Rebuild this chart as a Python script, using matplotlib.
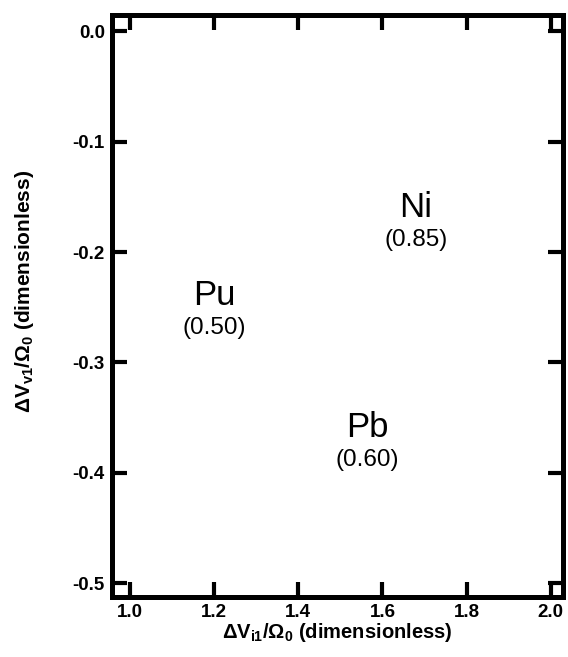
import numpy as np
import matplotlib
matplotlib.use("Agg")
import matplotlib.pyplot as plt

# element labels and where they sit on the map
elements = ["Ni", "Pu", "Pb"]
ratios = ["(0.85)", "(0.50)", "(0.60)"]
dv_i1 = [1.68, 1.20, 1.565]
dv_v1 = [-0.168, -0.248, -0.3675]

xticks = [1.0, 1.2, 1.4, 1.6, 1.8, 2.0]
yticks = [0.0, -0.1, -0.2, -0.3, -0.4, -0.5]

plt.rcParams["font.family"] = ["Liberation Sans", "DejaVu Sans"]
plt.rcParams["mathtext.fontset"] = "custom"
plt.rcParams["mathtext.bf"] = "Liberation Sans:bold"
plt.rcParams["mathtext.rm"] = "Liberation Sans"

fig = plt.figure(figsize=(5.68, 6.57), dpi=100)
ax = fig.add_axes([0.197, 0.0913, 0.794, 0.886])

for name, r, x, y in zip(elements, ratios, dv_i1, dv_v1):
    ax.text(x, y, name, fontsize=25, ha="center", va="baseline")
    ax.annotate(r, xy=(x, y), xytext=(0, -21), textcoords="offset points",
                fontsize=17.5, ha="center", va="baseline")

ax.set_xlim(0.957, 2.029)
ax.set_ylim(-0.5127, 0.0149)
ax.set_xticks(xticks)
ax.set_yticks(yticks)
ax.set_xticklabels(["%.1f" % t for t in xticks], fontweight="bold", fontsize=13.5)
ax.set_yticklabels(["%.1f" % t for t in yticks], fontweight="bold", fontsize=13.5)

for s in ax.spines.values():
    s.set_linewidth(3.6)
ax.tick_params(direction="in", length=11, width=3, top=True, right=True, pad=5)

ax.set_xlabel(r"$\mathbf{\Delta V_{i1}/\Omega_0}$ (dimensionless)", fontsize=14.5,
              fontweight="bold", labelpad=0)
ax.set_ylabel(r"$\mathbf{\Delta V_{v1}/\Omega_0}$ (dimensionless)", fontsize=15,
              fontweight="bold")
ax.yaxis.set_label_coords(-0.168, 0.525)

fig.savefig("out.png", dpi=100)
